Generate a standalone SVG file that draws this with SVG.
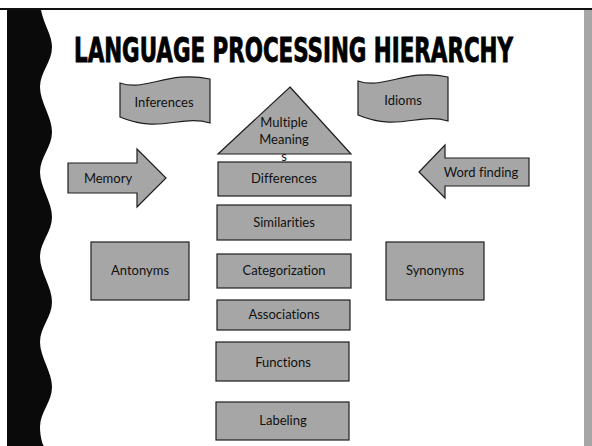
<svg xmlns="http://www.w3.org/2000/svg" width="592" height="446" viewBox="0 0 592 446">
  <style>
    .shape { fill: #a6a6a6; stroke: #1e1e1e; stroke-width: 1.2; }
    .lbl { font-family: Lato, "Open Sans", "DejaVu Sans", sans-serif; font-size: 13px; fill: #111; text-anchor: middle; font-variant-ligatures: none; }
    .title { font-family: "DejaVu Sans Condensed", "DejaVu Sans", sans-serif; font-weight: bold; font-stretch: condensed; font-size: 24px; fill: #000; stroke: #000; stroke-width: 0.6; }
  </style>

  <!-- page frame -->
  <rect x="0" y="0" width="592" height="446" fill="#ffffff"/>
  <line x1="0" y1="9" x2="592" y2="9" stroke="#111" stroke-width="2"/>
  <rect x="584" y="10" width="8" height="436" fill="#a6a6a6"/>
  <path fill="#0a0a0a" d="M7,10 L41,10 C44,25 52,35 52,47 C52,62 40,72 40,87 C40,102 52,117 52,132 C52,147 40,157 40,172 C40,187 52,202 52,217 C52,232 40,242 40,257 C40,272 52,287 52,302 C52,317 40,327 40,342 C40,357 52,372 52,387 C52,402 40,412 40,427 C40,437 43,446 44,446 L7,446 Z"/>

  <!-- heading, stretched vertically for a tall condensed look -->
  <g transform="translate(74,62) scale(1,1.37)">
    <text class="title" x="0" y="0" textLength="439" lengthAdjust="spacingAndGlyphs">LANGUAGE PROCESSING HIERARCHY</text>
  </g>

  <g id="connectors"></g>

  <g id="inferences">
    <path class="shape" d="M120,83 C146,92 168,70 210,79 L210,123 C182,114 160,134 120,117 Z"/>
    <text class="lbl" x="164" y="107">Inferences</text>
  </g>

  <g id="idioms">
    <path class="shape" d="M358,81 C384,90 406,68 448,77 L448,121 C420,112 398,132 358,115 Z"/>
    <text class="lbl" x="403" y="105">Idioms</text>
  </g>

  <g id="multiple-meanings">
    <polygon class="shape" points="290,87 351,154 218,154"/>
    <text class="lbl" x="284" y="127">Multiple</text>
    <text class="lbl" x="284" y="144">Meaning</text>
    <text class="lbl" x="284" y="161">s</text>
  </g>

  <g id="memory">
    <polygon class="shape" points="68,163 137,163 137,149 166,178 137,207 137,193 68,193"/>
    <text class="lbl" x="108" y="183">Memory</text>
  </g>

  <g id="word-finding">
    <polygon class="shape" points="529,158 445,158 445,145 419,172 445,198 445,186 529,186"/>
    <text class="lbl" x="481" y="177">Word finding</text>
  </g>

  <g id="differences">
    <rect class="shape" x="218" y="162" width="133" height="34"/>
    <text class="lbl" x="284" y="183">Differences</text>
  </g>

  <g id="similarities">
    <rect class="shape" x="217" y="205" width="134" height="35"/>
    <text class="lbl" x="284" y="227">Similarities</text>
  </g>

  <g id="antonyms">
    <rect class="shape" x="91" y="242" width="98" height="58"/>
    <text class="lbl" x="140" y="275">Antonyms</text>
  </g>

  <g id="categorization">
    <rect class="shape" x="217" y="254" width="134" height="34"/>
    <text class="lbl" x="284" y="275">Categorization</text>
  </g>

  <g id="synonyms">
    <rect class="shape" x="386" y="242" width="98" height="58"/>
    <text class="lbl" x="435" y="275">Synonyms</text>
  </g>

  <g id="associations">
    <rect class="shape" x="217" y="300" width="133" height="30"/>
    <text class="lbl" x="284" y="319">Associations</text>
  </g>

  <g id="functions">
    <rect class="shape" x="216" y="342" width="133" height="39"/>
    <text class="lbl" x="283" y="367">Functions</text>
  </g>

  <g id="labeling">
    <rect class="shape" x="216" y="402" width="133" height="38"/>
    <text class="lbl" x="283" y="425">Labeling</text>
  </g>
</svg>
